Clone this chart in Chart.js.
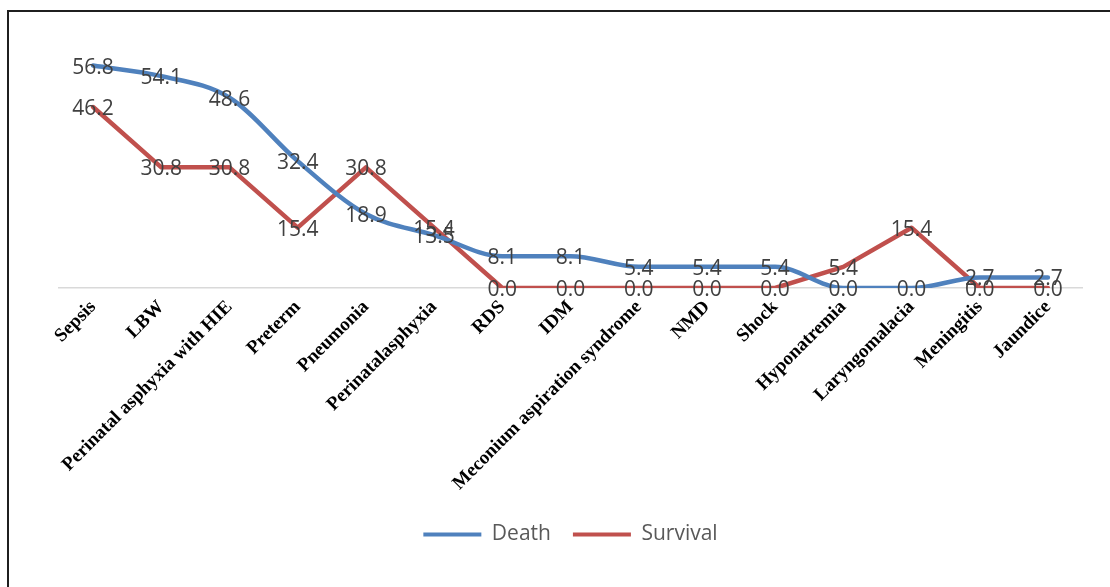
<!DOCTYPE html>
<html>
<head>
<meta charset="utf-8">
<script src="https://cdn.jsdelivr.net/npm/chart.js@4"></script>
<style>
  html, body { margin: 0; padding: 0; background: #ffffff; }
  #wrap { position: relative; width: 1110px; height: 587px; }
</style>
</head>
<body>
<div id="wrap"><canvas id="chart" width="1110" height="587"></canvas></div>
<script>
// Diagnoses on the category axis
const categories = [
  'Sepsis', 'LBW', 'Perinatal asphyxia with HIE', 'Preterm', 'Pneumonia',
  'Perinatalasphyxia', 'RDS', 'IDM', 'Meconium aspiration syndrome', 'NMD',
  'Shock', 'Hyponatremia', 'Laryngomalacia', 'Meningitis', 'Jaundice'
];

// Percentages per outcome group
const deathValues = [56.8, 54.1, 48.6, 32.4, 18.9, 13.5, 8.1, 8.1, 5.4, 5.4, 5.4, 0.0, 0.0, 2.7, 2.7];
const survivalValues = [46.2, 30.8, 30.8, 15.4, 30.8, 15.4, 0.0, 0.0, 0.0, 0.0, 0.0, 5.4, 15.4, 0.0, 0.0];

const seriesNames = ['Death', 'Survival'];

const BLUE = '#4f81bd';
const RED = '#c0504d';

// Draws the frame line along the top and left edges of the figure
const framePlugin = {
  id: 'frame',
  beforeDraw(chart) {
    const ctx = chart.ctx;
    ctx.save();
    ctx.fillStyle = '#ffffff';
    ctx.fillRect(0, 0, chart.width, chart.height);
    ctx.strokeStyle = '#1f1f1f';
    ctx.lineWidth = 2;
    ctx.beginPath();
    ctx.moveTo(8, chart.height);
    ctx.lineTo(8, 11);
    ctx.lineTo(chart.width, 11);
    ctx.stroke();
    ctx.restore();
  }
};

// Writes each point's value centred on the point
const valueLabelPlugin = {
  id: 'valueLabels',
  afterDatasetsDraw(chart) {
    const ctx = chart.ctx;
    ctx.save();
    ctx.font = '21px "Open Sans", sans-serif';
    ctx.fillStyle = '#404040';
    ctx.textAlign = 'center';
    ctx.textBaseline = 'middle';
    chart.data.datasets.forEach((ds, i) => {
      const meta = chart.getDatasetMeta(i);
      meta.data.forEach((pt, j) => {
        ctx.fillText(Number(ds.data[j]).toFixed(1), pt.x, pt.y + 2);
      });
    });
    ctx.restore();
  }
};

new Chart(document.getElementById('chart'), {
  type: 'line',
  data: {
    labels: categories,
    datasets: [
      {
        label: seriesNames[0],
        data: deathValues,
        borderColor: BLUE,
        backgroundColor: BLUE,
        borderWidth: 4.5,
        cubicInterpolationMode: 'monotone',
        pointRadius: 0,
        pointHoverRadius: 0,
        borderCapStyle: 'round',
        borderJoinStyle: 'round'
      },
      {
        label: seriesNames[1],
        data: survivalValues,
        borderColor: RED,
        backgroundColor: RED,
        borderWidth: 4.5,
        tension: 0,
        pointRadius: 0,
        pointHoverRadius: 0,
        borderCapStyle: 'round',
        borderJoinStyle: 'round'
      }
    ]
  },
  options: {
    responsive: false,
    animation: false,
    layout: { padding: { top: 53, left: 59, right: 28, bottom: 32 } },
    plugins: {
      tooltip: { enabled: false },
      legend: {
        position: 'bottom',
        labels: {
          boxWidth: 58,
          boxHeight: 4,
          padding: 22,
          color: '#595959',
          font: { family: '"Open Sans", sans-serif', size: 21 },
          generateLabels(chart) {
            return chart.data.datasets.map((ds, i) => ({
              text: ds.label,
              fillStyle: ds.borderColor,
              strokeStyle: ds.borderColor,
              lineWidth: 0,
              fontColor: '#595959',
              datasetIndex: i,
              hidden: false
            }));
          }
        }
      }
    },
    scales: {
      x: {
        offset: true,
        grid: { display: false, drawTicks: false },
        border: { display: true, color: '#d9d9d9', width: 1.5 },
        ticks: {
          autoSkip: false,
          minRotation: 45,
          maxRotation: 45,
          padding: 8,
          color: '#000000',
          font: { family: '"Liberation Serif", "Times New Roman", serif', size: 19, weight: 'bold' }
        },
        afterFit(scale) { scale.height = 214; }
      },
      y: {
        display: false,
        min: 0,
        max: 60
      }
    }
  },
  plugins: [framePlugin, valueLabelPlugin]
});
</script>
</body>
</html>
